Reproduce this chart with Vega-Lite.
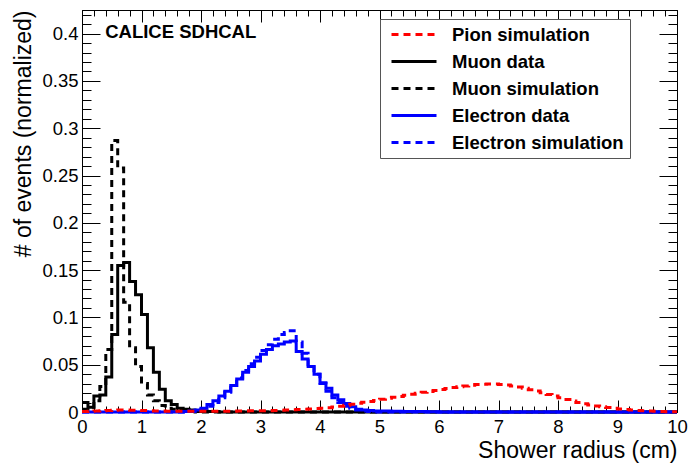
{
  "$schema": "https://vega.github.io/schema/vega-lite/v6.json",
  "width": 595,
  "height": 402,
  "autosize": {"type": "none"},
  "padding": {"left": 82, "top": 10, "right": 14, "bottom": 51},
  "background": "white",
  "config": {
    "view": {"stroke": "black", "strokeWidth": 1},
    "axis": {"grid": false, "domainColor": "black", "domainWidth": 1, "tickColor": "black", "tickWidth": 1, "labelFont": "Liberation Sans", "labelFontSize": 18.5, "labelColor": "black", "titleFont": "Liberation Sans", "titleFontSize": 23, "titleFontWeight": "normal", "titleColor": "black", "labelFlush": false, "labelOverlap": false},
    "legend": {"orient": "none", "legendX": 298, "legendY": 9, "strokeColor": "#555", "fillColor": "white", "padding": 6, "symbolType": "stroke", "symbolSize": 2025, "symbolStrokeWidth": 3, "symbolOffset": 4, "clipHeight": 19, "labelFont": "Liberation Sans", "labelFontSize": 18.5, "labelFontWeight": "bold", "labelColor": "black", "labelOffset": 14, "rowPadding": 8, "labelLimit": 400}
  },
  "data": {"values": [
    {"s": "Muon data", "x": 0.0, "y": 0.010}, {"s": "Muon data", "x": 0.1, "y": 0.005}, {"s": "Muon data", "x": 0.2, "y": 0.017}, {"s": "Muon data", "x": 0.3, "y": 0.018}, {"s": "Muon data", "x": 0.4, "y": 0.037}, {"s": "Muon data", "x": 0.5, "y": 0.082}, {"s": "Muon data", "x": 0.6, "y": 0.155}, {"s": "Muon data", "x": 0.7, "y": 0.158}, {"s": "Muon data", "x": 0.8, "y": 0.138}, {"s": "Muon data", "x": 0.9, "y": 0.124}, {"s": "Muon data", "x": 1.0, "y": 0.103}, {"s": "Muon data", "x": 1.1, "y": 0.068}, {"s": "Muon data", "x": 1.2, "y": 0.042}, {"s": "Muon data", "x": 1.3, "y": 0.024}, {"s": "Muon data", "x": 1.4, "y": 0.012}, {"s": "Muon data", "x": 1.5, "y": 0.008}, {"s": "Muon data", "x": 1.6, "y": 0.004}, {"s": "Muon data", "x": 1.7, "y": 0.003}, {"s": "Muon data", "x": 1.8, "y": 0.002}, {"s": "Muon data", "x": 1.9, "y": 0.001}, {"s": "Muon data", "x": 2.0, "y": 0.001}, {"s": "Muon data", "x": 2.1, "y": 0.0005}, {"s": "Muon data", "x": 2.2, "y": 0.0005}, {"s": "Muon data", "x": 2.3, "y": 0}, {"s": "Muon data", "x": 10.0, "y": 0},
    {"s": "Muon simulation", "x": 0.0, "y": 0.003}, {"s": "Muon simulation", "x": 0.1, "y": 0.005}, {"s": "Muon simulation", "x": 0.2, "y": 0.012}, {"s": "Muon simulation", "x": 0.3, "y": 0.027}, {"s": "Muon simulation", "x": 0.4, "y": 0.066}, {"s": "Muon simulation", "x": 0.5, "y": 0.287}, {"s": "Muon simulation", "x": 0.6, "y": 0.258}, {"s": "Muon simulation", "x": 0.7, "y": 0.116}, {"s": "Muon simulation", "x": 0.8, "y": 0.068}, {"s": "Muon simulation", "x": 0.9, "y": 0.048}, {"s": "Muon simulation", "x": 1.0, "y": 0.030}, {"s": "Muon simulation", "x": 1.1, "y": 0.018}, {"s": "Muon simulation", "x": 1.2, "y": 0.012}, {"s": "Muon simulation", "x": 1.3, "y": 0.007}, {"s": "Muon simulation", "x": 1.4, "y": 0.004}, {"s": "Muon simulation", "x": 1.5, "y": 0.003}, {"s": "Muon simulation", "x": 1.6, "y": 0.002}, {"s": "Muon simulation", "x": 1.7, "y": 0.001}, {"s": "Muon simulation", "x": 1.8, "y": 0.0005}, {"s": "Muon simulation", "x": 1.9, "y": 0}, {"s": "Muon simulation", "x": 10.0, "y": 0},
    {"s": "Electron data", "x": 0.0, "y": 0}, {"s": "Electron data", "x": 1.7, "y": 0.0005}, {"s": "Electron data", "x": 1.8, "y": 0.001}, {"s": "Electron data", "x": 1.9, "y": 0.002}, {"s": "Electron data", "x": 2.0, "y": 0.004}, {"s": "Electron data", "x": 2.1, "y": 0.008}, {"s": "Electron data", "x": 2.2, "y": 0.012}, {"s": "Electron data", "x": 2.3, "y": 0.017}, {"s": "Electron data", "x": 2.4, "y": 0.022}, {"s": "Electron data", "x": 2.5, "y": 0.028}, {"s": "Electron data", "x": 2.6, "y": 0.035}, {"s": "Electron data", "x": 2.7, "y": 0.042}, {"s": "Electron data", "x": 2.8, "y": 0.048}, {"s": "Electron data", "x": 2.9, "y": 0.054}, {"s": "Electron data", "x": 3.0, "y": 0.061}, {"s": "Electron data", "x": 3.1, "y": 0.066}, {"s": "Electron data", "x": 3.2, "y": 0.070}, {"s": "Electron data", "x": 3.3, "y": 0.072}, {"s": "Electron data", "x": 3.4, "y": 0.074}, {"s": "Electron data", "x": 3.5, "y": 0.075}, {"s": "Electron data", "x": 3.6, "y": 0.064}, {"s": "Electron data", "x": 3.7, "y": 0.056}, {"s": "Electron data", "x": 3.8, "y": 0.048}, {"s": "Electron data", "x": 3.9, "y": 0.040}, {"s": "Electron data", "x": 4.0, "y": 0.031}, {"s": "Electron data", "x": 4.1, "y": 0.025}, {"s": "Electron data", "x": 4.2, "y": 0.018}, {"s": "Electron data", "x": 4.3, "y": 0.013}, {"s": "Electron data", "x": 4.4, "y": 0.009}, {"s": "Electron data", "x": 4.5, "y": 0.0055}, {"s": "Electron data", "x": 4.6, "y": 0.003}, {"s": "Electron data", "x": 4.7, "y": 0.002}, {"s": "Electron data", "x": 4.8, "y": 0.0015}, {"s": "Electron data", "x": 4.9, "y": 0.001}, {"s": "Electron data", "x": 5.0, "y": 0.001}, {"s": "Electron data", "x": 5.2, "y": 0.0008}, {"s": "Electron data", "x": 5.4, "y": 0.0006}, {"s": "Electron data", "x": 5.6, "y": 0.0004}, {"s": "Electron data", "x": 5.8, "y": 0.0003}, {"s": "Electron data", "x": 6.0, "y": 0}, {"s": "Electron data", "x": 10.0, "y": 0},
    {"s": "Electron simulation", "x": 0.0, "y": 0}, {"s": "Electron simulation", "x": 1.8, "y": 0.0005}, {"s": "Electron simulation", "x": 1.9, "y": 0.001}, {"s": "Electron simulation", "x": 2.0, "y": 0.003}, {"s": "Electron simulation", "x": 2.1, "y": 0.006}, {"s": "Electron simulation", "x": 2.2, "y": 0.010}, {"s": "Electron simulation", "x": 2.3, "y": 0.015}, {"s": "Electron simulation", "x": 2.4, "y": 0.021}, {"s": "Electron simulation", "x": 2.5, "y": 0.028}, {"s": "Electron simulation", "x": 2.6, "y": 0.036}, {"s": "Electron simulation", "x": 2.7, "y": 0.044}, {"s": "Electron simulation", "x": 2.8, "y": 0.051}, {"s": "Electron simulation", "x": 2.9, "y": 0.058}, {"s": "Electron simulation", "x": 3.0, "y": 0.065}, {"s": "Electron simulation", "x": 3.1, "y": 0.071}, {"s": "Electron simulation", "x": 3.2, "y": 0.077}, {"s": "Electron simulation", "x": 3.3, "y": 0.082}, {"s": "Electron simulation", "x": 3.4, "y": 0.084}, {"s": "Electron simulation", "x": 3.5, "y": 0.086}, {"s": "Electron simulation", "x": 3.6, "y": 0.074}, {"s": "Electron simulation", "x": 3.7, "y": 0.062}, {"s": "Electron simulation", "x": 3.8, "y": 0.050}, {"s": "Electron simulation", "x": 3.9, "y": 0.040}, {"s": "Electron simulation", "x": 4.0, "y": 0.030}, {"s": "Electron simulation", "x": 4.1, "y": 0.022}, {"s": "Electron simulation", "x": 4.2, "y": 0.015}, {"s": "Electron simulation", "x": 4.3, "y": 0.010}, {"s": "Electron simulation", "x": 4.4, "y": 0.006}, {"s": "Electron simulation", "x": 4.5, "y": 0.004}, {"s": "Electron simulation", "x": 4.6, "y": 0.002}, {"s": "Electron simulation", "x": 4.7, "y": 0.001}, {"s": "Electron simulation", "x": 4.8, "y": 0.0005}, {"s": "Electron simulation", "x": 4.9, "y": 0}, {"s": "Electron simulation", "x": 10.0, "y": 0},
    {"s": "Pion simulation", "x": 0.0, "y": 0.0005}, {"s": "Pion simulation", "x": 0.1, "y": 0.0008}, {"s": "Pion simulation", "x": 0.2, "y": 0.0010}, {"s": "Pion simulation", "x": 0.3, "y": 0.0012}, {"s": "Pion simulation", "x": 0.4, "y": 0.0015}, {"s": "Pion simulation", "x": 0.5, "y": 0.0018}, {"s": "Pion simulation", "x": 0.6, "y": 0.0020}, {"s": "Pion simulation", "x": 0.7, "y": 0.0020}, {"s": "Pion simulation", "x": 0.8, "y": 0.0019}, {"s": "Pion simulation", "x": 0.9, "y": 0.0017}, {"s": "Pion simulation", "x": 1.0, "y": 0.0015}, {"s": "Pion simulation", "x": 1.1, "y": 0.0013}, {"s": "Pion simulation", "x": 1.2, "y": 0.0011}, {"s": "Pion simulation", "x": 1.3, "y": 0.0010}, {"s": "Pion simulation", "x": 1.4, "y": 0.0009}, {"s": "Pion simulation", "x": 1.5, "y": 0.0008}, {"s": "Pion simulation", "x": 1.7, "y": 0.0007}, {"s": "Pion simulation", "x": 2.3, "y": 0.0008}, {"s": "Pion simulation", "x": 2.5, "y": 0.0009}, {"s": "Pion simulation", "x": 2.6, "y": 0.0010}, {"s": "Pion simulation", "x": 2.7, "y": 0.0011}, {"s": "Pion simulation", "x": 2.8, "y": 0.0012}, {"s": "Pion simulation", "x": 2.9, "y": 0.0012}, {"s": "Pion simulation", "x": 3.0, "y": 0.0012}, {"s": "Pion simulation", "x": 3.1, "y": 0.0014}, {"s": "Pion simulation", "x": 3.2, "y": 0.0016}, {"s": "Pion simulation", "x": 3.3, "y": 0.0018}, {"s": "Pion simulation", "x": 3.4, "y": 0.0020}, {"s": "Pion simulation", "x": 3.5, "y": 0.0023}, {"s": "Pion simulation", "x": 3.6, "y": 0.0026}, {"s": "Pion simulation", "x": 3.7, "y": 0.0029}, {"s": "Pion simulation", "x": 3.8, "y": 0.0032}, {"s": "Pion simulation", "x": 3.9, "y": 0.0036}, {"s": "Pion simulation", "x": 4.0, "y": 0.0040}, {"s": "Pion simulation", "x": 4.1, "y": 0.0046}, {"s": "Pion simulation", "x": 4.2, "y": 0.0053}, {"s": "Pion simulation", "x": 4.3, "y": 0.0062}, {"s": "Pion simulation", "x": 4.4, "y": 0.0072}, {"s": "Pion simulation", "x": 4.5, "y": 0.0082}, {"s": "Pion simulation", "x": 4.6, "y": 0.0092}, {"s": "Pion simulation", "x": 4.7, "y": 0.0102}, {"s": "Pion simulation", "x": 4.8, "y": 0.0112}, {"s": "Pion simulation", "x": 4.9, "y": 0.0122}, {"s": "Pion simulation", "x": 5.0, "y": 0.0134}, {"s": "Pion simulation", "x": 5.1, "y": 0.0145}, {"s": "Pion simulation", "x": 5.2, "y": 0.0155}, {"s": "Pion simulation", "x": 5.3, "y": 0.0165}, {"s": "Pion simulation", "x": 5.4, "y": 0.0178}, {"s": "Pion simulation", "x": 5.5, "y": 0.0188}, {"s": "Pion simulation", "x": 5.6, "y": 0.0198}, {"s": "Pion simulation", "x": 5.7, "y": 0.0208}, {"s": "Pion simulation", "x": 5.8, "y": 0.0218}, {"s": "Pion simulation", "x": 5.9, "y": 0.0228}, {"s": "Pion simulation", "x": 6.0, "y": 0.0238}, {"s": "Pion simulation", "x": 6.1, "y": 0.0248}, {"s": "Pion simulation", "x": 6.2, "y": 0.0258}, {"s": "Pion simulation", "x": 6.3, "y": 0.0268}, {"s": "Pion simulation", "x": 6.4, "y": 0.0276}, {"s": "Pion simulation", "x": 6.5, "y": 0.0284}, {"s": "Pion simulation", "x": 6.6, "y": 0.0290}, {"s": "Pion simulation", "x": 6.7, "y": 0.0294}, {"s": "Pion simulation", "x": 6.8, "y": 0.0296}, {"s": "Pion simulation", "x": 6.9, "y": 0.0295}, {"s": "Pion simulation", "x": 7.0, "y": 0.0292}, {"s": "Pion simulation", "x": 7.1, "y": 0.0286}, {"s": "Pion simulation", "x": 7.2, "y": 0.0276}, {"s": "Pion simulation", "x": 7.3, "y": 0.0264}, {"s": "Pion simulation", "x": 7.4, "y": 0.0250}, {"s": "Pion simulation", "x": 7.5, "y": 0.0236}, {"s": "Pion simulation", "x": 7.6, "y": 0.0222}, {"s": "Pion simulation", "x": 7.7, "y": 0.0204}, {"s": "Pion simulation", "x": 7.8, "y": 0.0186}, {"s": "Pion simulation", "x": 7.9, "y": 0.0168}, {"s": "Pion simulation", "x": 8.0, "y": 0.0150}, {"s": "Pion simulation", "x": 8.1, "y": 0.0132}, {"s": "Pion simulation", "x": 8.2, "y": 0.0115}, {"s": "Pion simulation", "x": 8.3, "y": 0.0100}, {"s": "Pion simulation", "x": 8.4, "y": 0.0087}, {"s": "Pion simulation", "x": 8.5, "y": 0.0075}, {"s": "Pion simulation", "x": 8.6, "y": 0.0064}, {"s": "Pion simulation", "x": 8.7, "y": 0.0055}, {"s": "Pion simulation", "x": 8.8, "y": 0.0047}, {"s": "Pion simulation", "x": 8.9, "y": 0.0039}, {"s": "Pion simulation", "x": 9.0, "y": 0.0032}, {"s": "Pion simulation", "x": 9.1, "y": 0.0026}, {"s": "Pion simulation", "x": 9.2, "y": 0.0021}, {"s": "Pion simulation", "x": 9.3, "y": 0.0017}, {"s": "Pion simulation", "x": 9.4, "y": 0.0013}, {"s": "Pion simulation", "x": 9.5, "y": 0.0010}, {"s": "Pion simulation", "x": 9.6, "y": 0.0007}, {"s": "Pion simulation", "x": 9.7, "y": 0.0005}, {"s": "Pion simulation", "x": 9.8, "y": 0.0003}, {"s": "Pion simulation", "x": 9.9, "y": 0.0002}, {"s": "Pion simulation", "x": 10.0, "y": 0.0002}
  ]},
  "layer": [
    {
      "mark": {"type": "line", "interpolate": "step-after", "strokeWidth": 3},
      "encoding": {
        "x": {"field": "x", "type": "quantitative", "scale": {"domain": [0, 10], "nice": false, "zero": false},
          "axis": {"orient": "bottom", "title": "Shower radius (cm)", "titleAnchor": "end", "titlePadding": 3, "labelOverlap": false, "labelFlush": false,
            "values": [0,1,2,3,4,5,6,7,8,9,10],
            "labelExpr": "'' + datum.value",
            "tickSize": -12,
            "labelPadding": 17.5}},
        "y": {"field": "y", "type": "quantitative", "scale": {"domain": [0, 0.425], "nice": false},
          "axis": {"orient": "left", "title": "# of events (normalized)", "titleAnchor": "end", "titlePadding": 6, "labelOverlap": false,
            "values": [0,0.01,0.02,0.03,0.04,0.05,0.06,0.07,0.08,0.09,0.1,0.11,0.12,0.13,0.14,0.15,0.16,0.17,0.18,0.19,0.2,0.21,0.22,0.23,0.24,0.25,0.26,0.27,0.28,0.29,0.3,0.31,0.32,0.33,0.34,0.35,0.36,0.37,0.38,0.39,0.4,0.41,0.42],
            "format": ".2~f", "labelExpr": "abs(datum.value*20 - round(datum.value*20)) < 1e-6 ? datum.label : ''",
            "tickSize": {"condition": {"test": "abs(datum.value*20 - round(datum.value*20)) < 1e-6", "value": -18}, "value": -9},
            "labelPadding": 22}},
        "color": {"field": "s", "type": "nominal", "scale": {"domain": ["Pion simulation", "Muon data", "Muon simulation", "Electron data", "Electron simulation"], "range": ["#ff0000", "#000000", "#000000", "#0000ff", "#0000ff"]}, "legend": {"title": null}},
        "strokeDash": {"field": "s", "type": "nominal", "scale": {"domain": ["Pion simulation", "Muon data", "Muon simulation", "Electron data", "Electron simulation"], "range": [[7,5],[1,0],[7,5],[1,0],[7,5]]}, "legend": {"title": null}}
      }
    },
    {
      "mark": {"type": "point", "opacity": 0},
      "encoding": {
        "x": {"field": "x", "type": "quantitative", "scale": {"domain": [0, 10], "nice": false, "zero": false},
          "axis": {"orient": "top", "title": null, "labels": false,
            "values": [0,0.2,0.4,0.6,0.8,1,1.2,1.4,1.6,1.8,2,2.2,2.4,2.6,2.8,3,3.2,3.4,3.6,3.8,4,4.2,4.4,4.6,4.8,5,5.2,5.4,5.6,5.8,6,6.2,6.4,6.6,6.8,7,7.2,7.4,7.6,7.8,8,8.2,8.4,8.6,8.8,9,9.2,9.4,9.6,9.8,10],
            "tickSize": {"condition": {"test": "abs(datum.value - round(datum.value)) < 1e-6", "value": -12}, "value": -6}}},
        "y": {"field": "y", "type": "quantitative", "scale": {"domain": [0, 0.425], "nice": false},
          "axis": {"orient": "right", "title": null, "labels": false,
            "values": [0,0.01,0.02,0.03,0.04,0.05,0.06,0.07,0.08,0.09,0.1,0.11,0.12,0.13,0.14,0.15,0.16,0.17,0.18,0.19,0.2,0.21,0.22,0.23,0.24,0.25,0.26,0.27,0.28,0.29,0.3,0.31,0.32,0.33,0.34,0.35,0.36,0.37,0.38,0.39,0.4,0.41,0.42],
            "tickSize": {"condition": {"test": "abs(datum.value*20 - round(datum.value*20)) < 1e-6", "value": -18}, "value": -9}}}
      }
    },
    {
      "mark": {"type": "point", "opacity": 0},
      "encoding": {
        "x": {"field": "x", "type": "quantitative", "scale": {"domain": [0, 10], "nice": false, "zero": false},
          "axis": {"orient": "bottom", "title": null, "labels": false, "domain": false,
            "values": [0.2,0.4,0.6,0.8,1.2,1.4,1.6,1.8,2.2,2.4,2.6,2.8,3.2,3.4,3.6,3.8,4.2,4.4,4.6,4.8,5.2,5.4,5.6,5.8,6.2,6.4,6.6,6.8,7.2,7.4,7.6,7.8,8.2,8.4,8.6,8.8,9.2,9.4,9.6,9.8],
            "tickSize": -6}},
        "y": {"field": "y", "type": "quantitative", "scale": {"domain": [0, 0.425], "nice": false}, "axis": null}
      }
    },
    {
      "data": {"values": [{"label": "CALICE SDHCAL"}]},
      "mark": {"type": "text", "align": "left", "baseline": "middle", "font": "Liberation Sans", "fontSize": 18.5, "fontWeight": "bold", "color": "black"},
      "encoding": {
        "x": {"datum": 0.39, "type": "quantitative", "axis": null},
        "y": {"datum": 0.402, "type": "quantitative", "axis": null},
        "text": {"field": "label", "type": "nominal"}
      }
    }
  ],
  "resolve": {"axis": {"x": "independent", "y": "independent"}}
}
